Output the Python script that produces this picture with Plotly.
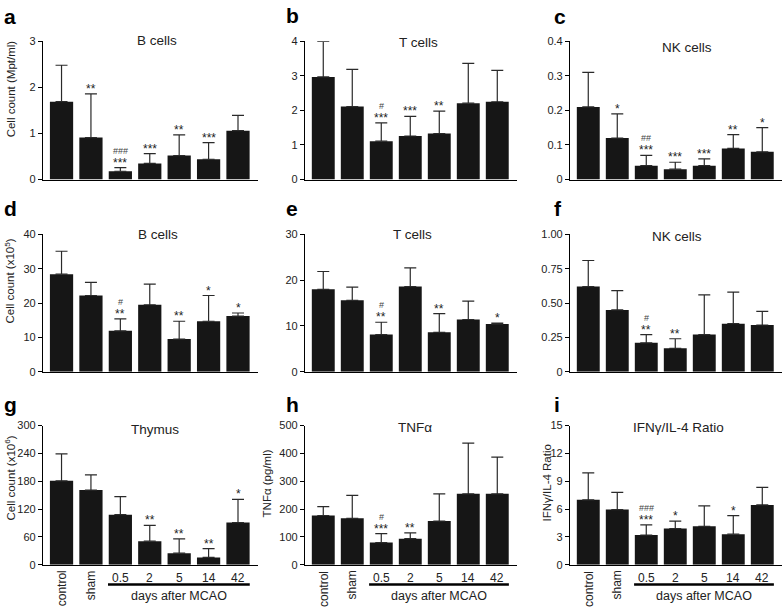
import plotly.graph_objects as go

W, H = 783, 611

categories = ["control", "sham", "0.5", "2", "5", "14", "42"]

# panel data: mean, sd (upper error), significance
a_mean = [1.69, 0.91, 0.18, 0.35, 0.52, 0.44, 1.06]
a_sd = [0.79, 0.95, 0.08, 0.21, 0.45, 0.36, 0.33]
a_star = ["", "**", "***", "***", "**", "***", ""]
a_hash = ["", "", "###", "", "", "", ""]

b_mean = [2.97, 2.11, 1.11, 1.26, 1.33, 2.21, 2.25]
b_sd = [1.03, 1.08, 0.53, 0.57, 0.65, 1.15, 0.91]
b_star = ["", "", "***", "***", "**", "", ""]
b_hash = ["", "", "#", "", "", "", ""]

c_mean = [0.21, 0.12, 0.04, 0.03, 0.04, 0.09, 0.08]
c_sd = [0.10, 0.07, 0.03, 0.02, 0.02, 0.04, 0.07]
c_star = ["", "*", "***", "***", "***", "**", "*"]
c_hash = ["", "", "##", "", "", "", ""]

d_mean = [28.4, 22.2, 11.9, 19.5, 9.5, 14.7, 16.2]
d_sd = [6.7, 3.8, 3.5, 6.0, 5.2, 7.5, 0.9]
d_star = ["", "", "**", "", "**", "*", "*"]
d_hash = ["", "", "#", "", "", "", ""]

e_mean = [18.0, 15.6, 8.1, 18.6, 8.6, 11.4, 10.4]
e_sd = [3.9, 2.9, 2.7, 4.1, 4.1, 4.0, 0.2]
e_star = ["", "", "**", "", "**", "", "*"]
e_hash = ["", "", "#", "", "", "", ""]

f_mean = [0.62, 0.45, 0.21, 0.17, 0.27, 0.35, 0.34]
f_sd = [0.19, 0.14, 0.06, 0.07, 0.29, 0.23, 0.10]
f_star = ["", "", "**", "**", "", "", ""]
f_hash = ["", "", "#", "", "", "", ""]

g_mean = [181, 161, 108, 51, 25, 16, 91]
g_sd = [58, 33, 39, 34, 31, 19, 50]
g_star = ["", "", "", "**", "**", "**", "*"]
g_hash = ["", "", "", "", "", "", ""]

h_mean = [177, 167, 80, 94, 157, 255, 255]
h_sd = [32, 82, 32, 21, 98, 182, 132]
h_star = ["", "", "***", "**", "", "", ""]
h_hash = ["", "", "#", "", "", "", ""]

i_mean = [7.0, 5.95, 3.2, 3.9, 4.15, 3.3, 6.45]
i_sd = [2.9, 1.85, 1.1, 0.8, 2.2, 2.0, 1.9]
i_star = ["", "", "***", "*", "", "*", ""]
i_hash = ["", "", "###", "", "", "", ""]

panels = [
    dict(letter="a", title="B cells", mean=a_mean, sd=a_sd, star=a_star, hash=a_hash,
         ymax=3, tickvals=[0, 1, 2, 3], ticktext=["0", "1", "2", "3"]),
    dict(letter="b", title="T cells", mean=b_mean, sd=b_sd, star=b_star, hash=b_hash,
         ymax=4, tickvals=[0, 1, 2, 3, 4], ticktext=["0", "1", "2", "3", "4"]),
    dict(letter="c", title="NK cells", mean=c_mean, sd=c_sd, star=c_star, hash=c_hash,
         ymax=0.4, tickvals=[0, 0.1, 0.2, 0.3, 0.4], ticktext=["0", "0.1", "0.2", "0.3", "0.4"]),
    dict(letter="d", title="B cells", mean=d_mean, sd=d_sd, star=d_star, hash=d_hash,
         ymax=40, tickvals=[0, 10, 20, 30, 40], ticktext=["0", "10", "20", "30", "40"]),
    dict(letter="e", title="T cells", mean=e_mean, sd=e_sd, star=e_star, hash=e_hash,
         ymax=30, tickvals=[0, 10, 20, 30], ticktext=["0", "10", "20", "30"]),
    dict(letter="f", title="NK cells", mean=f_mean, sd=f_sd, star=f_star, hash=f_hash,
         ymax=1.0, tickvals=[0, 0.25, 0.5, 0.75, 1.0], ticktext=["0", "0.25", "0.50", "0.75", "1.00"]),
    dict(letter="g", title="Thymus", mean=g_mean, sd=g_sd, star=g_star, hash=g_hash,
         ymax=300, tickvals=[0, 60, 120, 180, 240, 300], ticktext=["0", "60", "120", "180", "240", "300"]),
    dict(letter="h", title="TNFα", mean=h_mean, sd=h_sd, star=h_star, hash=h_hash,
         ymax=500, tickvals=[0, 100, 200, 300, 400, 500], ticktext=["0", "100", "200", "300", "400", "500"]),
    dict(letter="i", title="IFNγ/IL-4 Ratio", mean=i_mean, sd=i_sd, star=i_star, hash=i_hash,
         ymax=15, tickvals=[0, 3, 6, 9, 12, 15], ticktext=["0", "3", "6", "9", "12", "15"]),
]

ytitles = {
    0: ("Cell count (Mpt/ml)", 11, 85),
    3: ("Cell count (x10<sup>5</sup>)", 10, 281),
    6: ("Cell count (x10<sup>6</sup>)", 10, 482),
    7: ("TNFα (pg/ml)", 267, 487),
    8: ("IFNγ/IL-4 Ratio", 547, 487),
}

# layout geometry (pixels)
cols = [(43, 258), (305, 517), (570, 782)]
rows = [(36, 177), (233, 373), (428, 570)]
title_pos = [(157, 35), (418, 37), (687, 42), (158, 233), (412, 233), (677, 235),
             (155, 432), (415, 430), (678, 430)]
letter_pos = [(2, 11), (284, 10), (552, 11), (2, 207), (284, 207), (552, 207),
              (2, 406), (284, 406), (552, 406)]

FONT = "Liberation Sans, Arial, Helvetica, sans-serif"
TXT = "#222222"

def px(x):
    return x / W

def py(y):
    return 1 - y / H

fig = go.Figure()
annotations = []
shapes = []
XR = [-0.63, 6.68]

for k, p in enumerate(panels):
    n = k + 1
    xa = "x" if n == 1 else f"x{n}"
    ya = "y" if n == 1 else f"y{n}"
    r, c = divmod(k, 3)
    x0, x1 = cols[c]
    yt, yb = rows[r]
    fig.add_trace(go.Bar(
        x=list(range(len(categories))), y=p["mean"], xaxis=xa, yaxis=ya,
        width=0.79, marker=dict(color="#161616", line=dict(width=0)),
        error_y=dict(type="data", symmetric=False, array=p["sd"],
                     arrayminus=[0] * len(p["sd"]), color="#2a2a2a",
                     thickness=1.2, width=6),
        showlegend=False, hoverinfo="skip"))
    xkey = "xaxis" if n == 1 else f"xaxis{n}"
    ykey = "yaxis" if n == 1 else f"yaxis{n}"
    fig.update_layout(**{
        xkey: dict(domain=[px(x0), px(x1)], range=XR, anchor=ya,
                   showline=True, linecolor="black", linewidth=1.2,
                   ticks="", showticklabels=False, showgrid=False, zeroline=False,
                   fixedrange=True),
        ykey: dict(domain=[py(yb), py(yt)], range=[0, p["ymax"]], anchor=xa,
                   showline=True, linecolor="black", linewidth=1.2,
                   ticks="outside", ticklen=4, tickwidth=1, tickcolor="black",
                   tickvals=p["tickvals"], ticktext=p["ticktext"],
                   tickfont=dict(family=FONT, size=11, color=TXT),
                   showgrid=False, zeroline=False, fixedrange=True),
    })
    # significance marks
    for j in range(len(categories)):
        top = p["mean"][j] + p["sd"][j]
        if p["star"][j]:
            annotations.append(dict(x=j, y=top, xref=xa, yref=ya, text=p["star"][j],
                                    showarrow=False, yanchor="bottom", yshift=-4,
                                    font=dict(family=FONT, size=12, color=TXT)))
        if p["hash"][j]:
            annotations.append(dict(x=j, y=top, xref=xa, yref=ya, text=p["hash"][j],
                                    showarrow=False, yanchor="bottom", yshift=10,
                                    font=dict(family=FONT, size=9, color="#444444")))
    # title
    tx, ty = title_pos[k]
    annotations.append(dict(x=px(tx), y=py(ty), xref="paper", yref="paper",
                            text=p["title"], showarrow=False, xanchor="center",
                            yanchor="middle", font=dict(family=FONT, size=13.5, color=TXT)))
    # letter
    lx, ly = letter_pos[k]
    annotations.append(dict(x=px(lx), y=py(ly), xref="paper", yref="paper",
                            text=f"<b>{p['letter']}</b>", showarrow=False,
                            xanchor="left", yanchor="middle",
                            font=dict(family=FONT, size=21, color="black")))
    # y title
    if k in ytitles:
        t, ax_, ay_ = ytitles[k]
        annotations.append(dict(x=px(ax_), y=py(ay_), xref="paper", yref="paper",
                                text=t, showarrow=False, textangle=-90,
                                xanchor="center", yanchor="middle",
                                font=dict(family=FONT, size=11.5, color=TXT)))
    # bottom-row category labels
    if r == 2:
        for j, cat in enumerate(categories):
            if j < 2:
                annotations.append(dict(x=j, y=py(574), xref=xa, yref="paper",
                                        text=cat, showarrow=False, textangle=-90,
                                        xanchor="center", yanchor="top",
                                        font=dict(family=FONT, size=12, color=TXT)))
            else:
                annotations.append(dict(x=j, y=py(583), xref=xa, yref="paper",
                                        text=cat, showarrow=False,
                                        xanchor="center", yanchor="middle",
                                        font=dict(family=FONT, size=12, color=TXT)))
        shapes.append(dict(type="line", xref=xa, yref="paper", x0=1.58, x1=6.4,
                           y0=py(590), y1=py(590), line=dict(color="black", width=2.5)))
        annotations.append(dict(x=4, y=py(602), xref=xa, yref="paper",
                                text="days after MCAO", showarrow=False,
                                xanchor="center", yanchor="middle",
                                font=dict(family=FONT, size=12.5, color=TXT)))

fig.update_layout(width=W, height=H, margin=dict(l=0, r=0, t=0, b=0),
                  paper_bgcolor="white", plot_bgcolor="white",
                  annotations=annotations, shapes=shapes, barmode="overlay",
                  showlegend=False)

fig.write_html("out.html", config={"displayModeBar": False},
               post_script="document.body.style.margin='0';document.body.style.overflow='hidden';")
